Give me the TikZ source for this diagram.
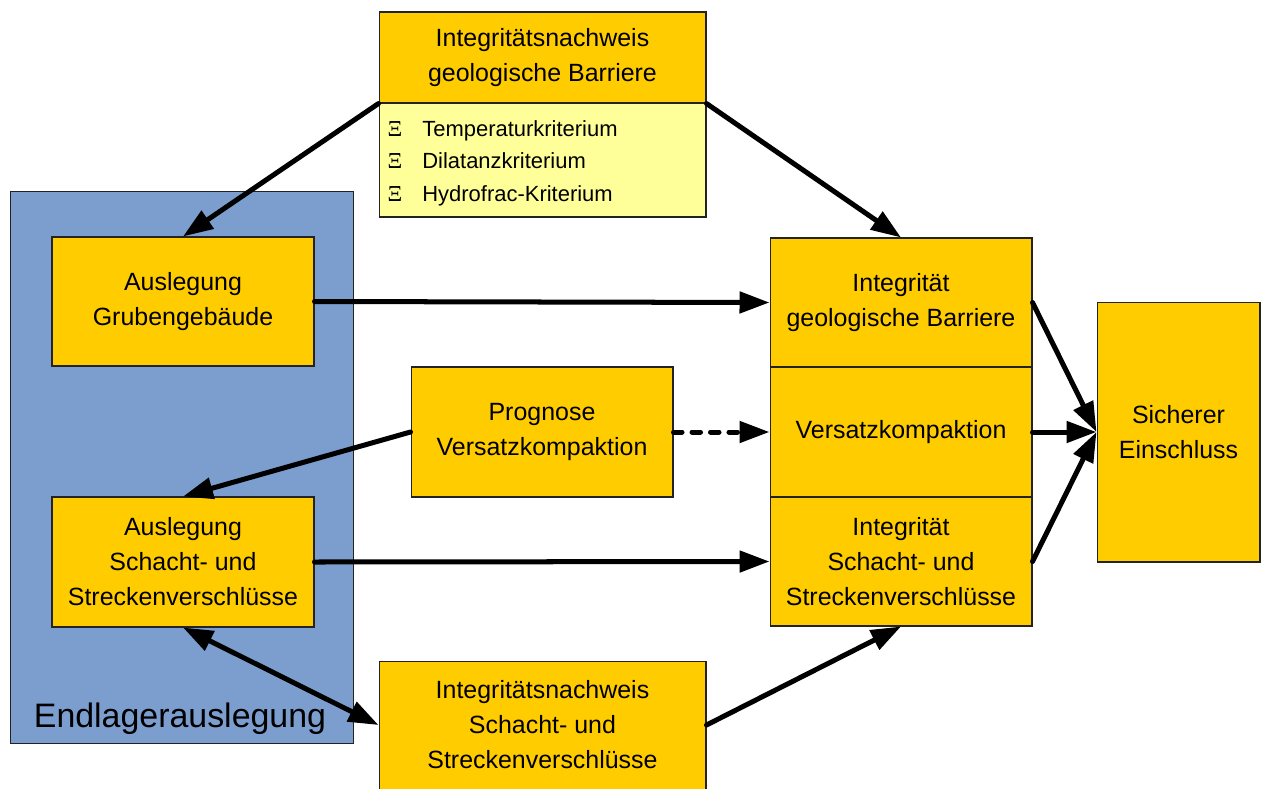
\documentclass[tikz,border=0pt]{standalone}
\usepackage{fontspec}
\setmainfont{Liberation Sans}
\newfontfamily\xifont{Liberation Serif}
\usetikzlibrary{arrows.meta}
\definecolor{boxorange}{RGB}{255,204,0}
\definecolor{boxyellow}{RGB}{255,255,153}
\definecolor{areablue}{RGB}{124,158,206}
\definecolor{edgegray}{RGB}{35,35,35}
\begin{document}
\begin{tikzpicture}[x=0.02cm,y=-0.02cm,
  box/.style={draw=edgegray, line width=0.6pt, fill=boxorange, inner sep=0pt, align=center,
              font=\fontsize{14.2}{19.9}\selectfont},
  plaintxt/.style={inner sep=0pt, align=center, font=\fontsize{14.2}{19.9}\selectfont},
  area/.style={draw=edgegray, line width=0.6pt, fill=areablue, inner sep=0pt},
  crittxt/.style={anchor=base west, inner sep=0pt, font=\fontsize{12.5}{15}\selectfont},
  critmark/.style={anchor=base, inner sep=0pt, font=\fontsize{13}{15}\xifont},
  arr/.style={line width=2.85pt, line cap=round, -{Triangle[length=0.6cm,width=0.42cm]}},
  biarr/.style={line width=2.85pt, line cap=round, {Triangle[length=0.6cm,width=0.42cm]}-{Triangle[length=0.6cm,width=0.42cm]}},
  dasharr/.style={arr, dash pattern=on 0.17cm off 0.2cm}
]
\useasboundingbox (0,0) rectangle (1261,788);

% background area
\node[area, minimum width=6.88cm, minimum height=11.06cm] (endl) at (182,467.5) {};
\node[inner sep=0pt, font=\fontsize{19.3}{23}\selectfont] (endltxt) at (180,719) {Endlagerauslegung};

% top box
\node[box, minimum width=6.54cm, minimum height=1.82cm] (ngb) at (542.5,57.5) {Integritätsnachweis\\geologische Barriere};
\node[box, fill=boxyellow, minimum width=6.54cm, minimum height=2.28cm] (crit) at (542.5,160) {};
\node[critmark] (m1) at (395,136) {Ξ};
\node[critmark] (m2) at (395,168.5) {Ξ};
\node[critmark] (m3) at (395,201) {Ξ};
\node[crittxt] (c1) at (422,136) {Temperaturkriterium};
\node[crittxt] (c2) at (422,168.5) {Dilatanzkriterium};
\node[crittxt] (c3) at (422,201) {Hydrofrac-Kriterium};

% left boxes
\node[box, minimum width=5.24cm, minimum height=2.58cm] (grub) at (183,301.5) {Auslegung\\Grubengebäude};
\node[box, minimum width=5.24cm, minimum height=2.6cm] (ausv) at (183,562) {Auslegung\\Schacht- und\\Streckenverschlüsse};

% middle boxes
\node[box, minimum width=5.24cm, minimum height=2.6cm] (prog) at (542,432) {Prognose\\Versatzkompaktion};
\node[box, anchor=north, minimum width=6.54cm, minimum height=3.0cm] (inv) at (542.5,661) {};
\node[plaintxt] (invtxt) at (542.5,725) {Integritätsnachweis\\Schacht- und\\Streckenverschlüsse};

% right stack
\node[box, minimum width=5.24cm, minimum height=2.58cm] (igb) at (901,302.5) {Integrität\\geologische Barriere};
\node[box, minimum width=5.24cm, minimum height=2.6cm] (vk) at (901,432) {Versatzkompaktion};
\node[box, minimum width=5.24cm, minimum height=2.58cm] (isv) at (901,561.5) {Integrität\\Schacht- und\\Streckenverschlüsse};

% result
\node[box, minimum width=3.26cm, minimum height=5.2cm] (se) at (1178.5,432) {Sicherer\\Einschluss};

% connectors
\draw[arr] (ngb.south west) -- (grub.north);
\draw[arr] (ngb.south east) -- (igb.north);
\draw[arr] (grub.east) -- (igb.west);
\draw[arr] (prog.west) -- (ausv.north);
\draw[dasharr] (prog.east) -- (vk.west);
\draw[arr] (ausv.east) -- (isv.west);
\draw[biarr] (inv.west |- invtxt) -- (ausv.south);
\draw[arr] (inv.east |- invtxt) -- (isv.south);
\draw[arr] (igb.east) -- (se.west);
\draw[arr] (vk.east) -- (se.west);
\draw[arr] (isv.east) -- (se.west);
\end{tikzpicture}
\end{document}
